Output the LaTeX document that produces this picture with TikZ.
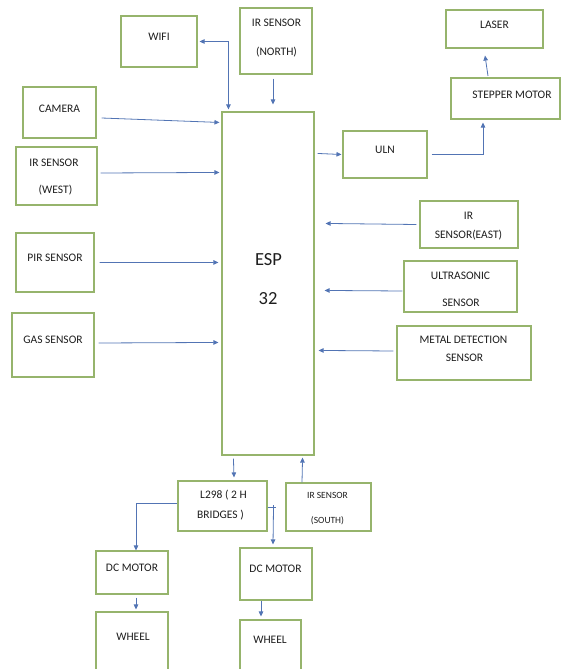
\documentclass[tikz,border=0pt]{standalone}
\usepackage{fontspec}
\setmainfont{Carlito}
\usetikzlibrary{arrows.meta,calc}
\definecolor{boxgreen}{RGB}{150,180,108}
\definecolor{arrblue}{RGB}{82,116,180}
\definecolor{txtgray}{RGB}{30,30,30}
\tikzset{
  blk/.style={draw=boxgreen, line width=1.1pt, fill=white, inner sep=0pt},
  lbl/.style={text=txtgray, font=\fontsize{11.5}{13}\selectfont, inner sep=0pt, text height=7.4pt, text depth=0pt, anchor=center},
  lblsmall/.style={lbl, font=\fontsize{9.5}{11}\selectfont, text height=6.1pt},
  lblbig/.style={lbl, font=\fontsize{18.5}{22}\selectfont, text height=11.9pt},
  conn/.style={draw=arrblue, line width=0.8pt},
  arr/.style={conn, -{Triangle[length=5pt,width=4.5pt]}},
  arrboth/.style={conn, {Triangle[length=5pt,width=4.5pt]}-{Triangle[length=5pt,width=4.5pt]}},
}
\begin{document}
\begin{tikzpicture}[x=1pt,y=-1pt]
\useasboundingbox (0,0) rectangle (561,669);
\begin{scope}
\clip (0,0) rectangle (561,669);
% boxes
\node[blk, minimum width=76pt, minimum height=51pt] (wifi) at (159,41.5) {};
\node[blk, minimum width=72pt, minimum height=66pt] (north) at (276,41) {};
\node[blk, minimum width=97pt, minimum height=38pt] (laser) at (494.5,29) {};
\node[blk, minimum width=109pt, minimum height=41pt] (stepper) at (505.5,98.5) {};
\node[blk, minimum width=73pt, minimum height=51pt] (camera) at (59.5,112.5) {};
\node[blk, minimum width=81pt, minimum height=58pt] (west) at (56.5,176) {};
\node[blk, minimum width=84pt, minimum height=47pt] (uln) at (385,154.5) {};
\node[blk, minimum width=92pt, minimum height=343pt] (esp) at (268,283.5) {};
\node[blk, minimum width=98pt, minimum height=47pt] (east) at (469,224.5) {};
\node[blk, minimum width=78pt, minimum height=59pt] (pir) at (55,262.5) {};
\node[blk, minimum width=113pt, minimum height=51pt] (ultra) at (460.5,286.5) {};
\node[blk, minimum width=82pt, minimum height=64pt] (gas) at (53,345) {};
\node[blk, minimum width=134pt, minimum height=54pt] (metal) at (464,353) {};
\node[blk, minimum width=89pt, minimum height=50pt] (l298) at (222.5,506) {};
\node[blk, minimum width=85pt, minimum height=48pt] (south) at (328.5,507) {};
\node[blk, minimum width=72pt, minimum height=43pt] (dcl) at (132,572.5) {};
\node[blk, minimum width=72pt, minimum height=52pt] (dcr) at (276,574) {};
\node[blk, minimum width=72pt, minimum height=78pt] (whl) at (132,651) {};
\node[blk, minimum width=61pt, minimum height=70pt] (whr) at (270.5,655) {};
\end{scope}
% texts
\node[lbl] (wifi-t) at (159,37) {WIFI};
\node[lbl] (north-t1) at (276.5,23) {IR SENSOR};
\node[lbl] (north-t2) at (276.5,52) {(NORTH)};
\node[lbl] (laser-t) at (494.5,25) {LASER};
\node[lbl] (stepper-t) at (512,95) {STEPPER MOTOR};
\node[lbl] (camera-t) at (59.5,108.5) {CAMERA};
\node[lbl] (west-t1) at (54,162.5) {IR SENSOR};
\node[lbl] (west-t2) at (55.5,189.5) {(WEST)};
\node[lbl] (uln-t) at (385,150) {ULN};
\node[lblbig] (esp-t1) at (268.5,259.5) {ESP};
\node[lblbig] (esp-t2) at (268,298.5) {32};
\node[lbl] (east-t1) at (468.5,216) {IR};
\node[lbl] (east-t2) at (468.5,234.5) {SENSOR(EAST)};
\node[lbl] (pir-t) at (55,257.5) {PIR SENSOR};
\node[lbl] (ultra-t1) at (460.5,275.5) {ULTRASONIC};
\node[lbl] (ultra-t2) at (461,302.5) {SENSOR};
\node[lbl] (gas-t) at (53,339.5) {GAS SENSOR};
\node[lbl] (metal-t1) at (463.5,339.5) {METAL DETECTION};
\node[lbl] (metal-t2) at (464.5,357.5) {SENSOR};
\node[lbl] (l298-t1) at (223.5,495) {L298 ( 2 H};
\node[lbl] (l298-t2) at (220.5,514.5) {BRIDGES )};
\node[lblsmall] (south-t1) at (327.5,495) {IR SENSOR};
\node[lblsmall] (south-t2) at (327.5,520) {(SOUTH)};
\node[lbl] (dcl-t) at (132,568) {DC MOTOR};
\node[lbl] (dcr-t) at (275.5,569) {DC MOTOR};
\node[lbl] (whl-t) at (133,636.5) {WHEEL};
\node[lbl] (whr-t) at (270,639.5) {WHEEL};
% connectors
\draw[arrboth] ([xshift=2pt]wifi.east) -| ($(esp.north west)+(7,-2)$);
\draw[arr] ([xshift=-3pt,yshift=-4pt]north.south) -- ($(esp.north)+(5,-7)$);
\draw[arr] ([xshift=5pt,yshift=-5.5pt]camera.east) -- ($(esp.north west)+(-2,11)$);
\draw[arr] ([xshift=3pt,yshift=3pt]west.east) -- ($(esp.north west)+(-2,61)$);
\draw[arr] ([xshift=5pt]pir.east) -- ($(esp.north west)+(-3,151)$);
\draw[arr] ([xshift=4pt,yshift=2pt]gas.east) -- ($(esp.north west)+(-3,231)$);
\draw[arr] ($(esp.north east)+(3,42)$) -- ([xshift=-1pt]uln.west);
\draw[arr] ([xshift=4pt]uln.east) -| ($(stepper.south)+(-22.5,3)$);
\draw[arr] ($(stepper.north)+(-17.5,-1.5)$) -- ($(laser.south)+(-9.5,7)$);
\draw[arr] ([xshift=-3pt]east.west) -- ($(esp.north east)+(11,112)$);
\draw[arr] ([xshift=-1pt,yshift=-4.5pt]ultra.west) -- ($(esp.north east)+(10,179)$);
\draw[arr] ([xshift=-3pt,yshift=2pt]metal.west) -- ($(esp.north east)+(4,239)$);
\draw[arr] ($(esp.south west)+(12,3)$) -- ($(l298.north)+(11.5,-3)$);
\draw[arr] ([xshift=-26.5pt]south.north) -- ($(esp.south east)+(-12,2)$);
\draw[arr] ([yshift=3pt]l298.west) -| ([xshift=4pt]dcl.north);
\draw[conn] ([yshift=-1pt]l298.east) -- ++(8,0);
\draw[arr] ($(l298.east)+(6,-1)$) -- ($(dcr.north)+(-3,-3)$);
\draw[arr] ($(dcl.south)+(4,3)$) -- ($(whl.north)+(4,-2)$);
\draw[arr] ($(dcr.south)+(-15,0)$) -- ($(whr.north)+(-9.5,-3)$);
\end{tikzpicture}
\end{document}
